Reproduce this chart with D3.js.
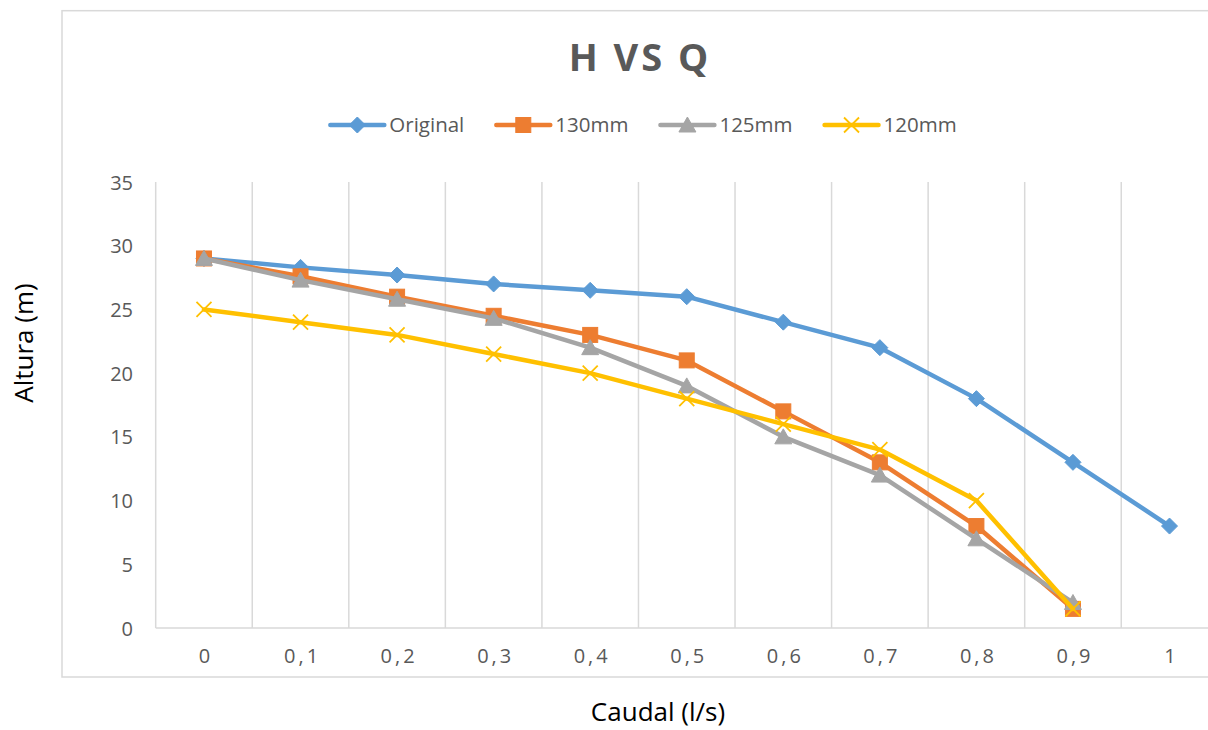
<!DOCTYPE html>
<html>
<head>
<meta charset="utf-8">
<script src="https://cdn.jsdelivr.net/npm/d3@7/dist/d3.min.js"></script>
<style>
  html, body { margin: 0; padding: 0; background: #fff; }
  svg { display: block; font-family: "Open Sans", sans-serif; }
</style>
</head>
<body>
<svg id="chart" width="1208" height="730"></svg>
<script>
// Flow rate categories (l/s) and head values (m) for each impeller diameter
const caudal = ["0", "0,1", "0,2", "0,3", "0,4", "0,5", "0,6", "0,7", "0,8", "0,9", "1"];
const original = [29, 28.3, 27.7, 27, 26.5, 26, 24, 22, 18, 13, 8];
const d130 = [29, 27.6, 26, 24.5, 23, 21, 17, 13, 8, 1.5];
const d125 = [29, 27.3, 25.8, 24.3, 22, 19, 15, 12, 7, 2];
const d120 = [25, 24, 23, 21.5, 20, 18, 16, 14, 10, 1.5];
const seriesNames = ["Original", "130mm", "125mm", "120mm"];
const seriesColors = ["#5B9BD5", "#ED7D31", "#A5A5A5", "#FFC000"];
const seriesMarkers = ["diamond", "square", "triangle", "cross"];
const yTicks = [0, 5, 10, 15, 20, 25, 30, 35];

const series = [original, d130, d125, d120].map((vals, i) => ({
  name: seriesNames[i], color: seriesColors[i], marker: seriesMarkers[i],
  values: vals.map((v, j) => ({ cat: caudal[j], v }))
}));

const svg = d3.select("#chart");
const plot = { left: 155.7, right: 1217.8, top: 182, bottom: 628 };

// Chart area frame
svg.append("rect")
  .attr("x", 62).attr("y", 10.7).attr("width", 1156).attr("height", 666.3)
  .attr("fill", "#fff").attr("stroke", "#d9d9d9").attr("stroke-width", 1.5);

const x = d3.scalePoint().domain(caudal).range([plot.left, plot.right]).padding(0.5);
const y = d3.scaleLinear().domain([0, 35]).range([plot.bottom, plot.top]);
const step = x.step();

// Vertical gridlines at category boundaries
const bounds = d3.range(caudal.length + 1).map(i => plot.left + i * step);
svg.append("g").selectAll("line").data(bounds).join("line")
  .attr("x1", d => d).attr("x2", d => d)
  .attr("y1", plot.top).attr("y2", plot.bottom)
  .attr("stroke", "#d9d9d9").attr("stroke-width", 1.5);

// Horizontal category axis line
svg.append("line")
  .attr("x1", plot.left).attr("x2", plot.right)
  .attr("y1", plot.bottom).attr("y2", plot.bottom)
  .attr("stroke", "#d9d9d9").attr("stroke-width", 1.5);

// Value axis labels
const yAxis = d3.axisLeft(y).tickValues(yTicks).tickSize(0).tickPadding(0).tickFormat(d3.format("d"));
const gy = svg.append("g").attr("transform", "translate(133,0)").call(yAxis);
gy.select(".domain").remove();
gy.selectAll("text")
  .attr("fill", "#595959").attr("font-size", 20)
  .attr("font-family", "Open Sans, sans-serif").attr("dy", "0.35em");

// Category axis labels
const xAxis = d3.axisBottom(x).tickSize(0).tickPadding(0);
const gx = svg.append("g").attr("transform", `translate(0,${plot.bottom})`).call(xAxis);
gx.select(".domain").remove();
gx.selectAll("text")
  .attr("fill", "#595959").attr("font-size", 20)
  .attr("font-family", "Open Sans, sans-serif")
  .attr("dy", 0).attr("y", 35)
  .attr("letter-spacing", "3px")
  .attr("dx", "1.5px");

// Marker shapes
function drawMarker(g, type, color, cx, cy) {
  if (type === "diamond") {
    g.append("path")
      .attr("d", `M${cx},${cy - 8}L${cx + 8},${cy}L${cx},${cy + 8}L${cx - 8},${cy}Z`)
      .attr("fill", color).attr("stroke", color).attr("stroke-width", 1);
  } else if (type === "square") {
    g.append("rect").attr("x", cx - 7.5).attr("y", cy - 7.5)
      .attr("width", 15).attr("height", 15)
      .attr("fill", color).attr("stroke", color).attr("stroke-width", 1);
  } else if (type === "triangle") {
    g.append("path")
      .attr("d", `M${cx},${cy - 8}L${cx + 8.5},${cy + 7}L${cx - 8.5},${cy + 7}Z`)
      .attr("fill", color).attr("stroke", color).attr("stroke-width", 1);
  } else if (type === "cross") {
    g.append("path")
      .attr("d", `M${cx - 7.5},${cy - 7.5}L${cx + 7.5},${cy + 7.5}M${cx + 7.5},${cy - 7.5}L${cx - 7.5},${cy + 7.5}`)
      .attr("fill", "none").attr("stroke", color).attr("stroke-width", 1.8);
  }
}

// Series lines and markers
const line = d3.line().x(d => x(d.cat)).y(d => y(d.v));
series.forEach(s => {
  const g = svg.append("g");
  g.append("path").datum(s.values)
    .attr("d", line).attr("fill", "none")
    .attr("stroke", s.color).attr("stroke-width", 4.5)
    .attr("stroke-linejoin", "round").attr("stroke-linecap", "round");
  s.values.forEach(d => drawMarker(g, s.marker, s.color, x(d.cat), y(d.v)));
});

// Title
svg.append("text")
  .attr("x", 640).attr("y", 71).attr("text-anchor", "middle")
  .attr("font-size", 38).attr("font-weight", "bold")
  .attr("letter-spacing", "3px")
  .attr("fill", "#595959").text("H VS Q");

// Legend
const legend = svg.append("g");
const legendY = 125;
let lx = 0;
series.forEach(s => {
  const it = legend.append("g");
  it.append("line").attr("x1", 0).attr("x2", 54).attr("y1", legendY).attr("y2", legendY)
    .attr("stroke", s.color).attr("stroke-width", 4.5).attr("stroke-linecap", "round");
  drawMarker(it, s.marker, s.color, 27, legendY);
  const t = it.append("text").attr("x", 59).attr("y", legendY).attr("dy", "0.35em")
    .attr("font-size", 20.5).attr("fill", "#595959").text(s.name);
  const w = 59 + t.node().getComputedTextLength();
  it.attr("transform", `translate(${lx},0)`);
  lx += w + 32;
});
const legendWidth = lx - 32;
legend.attr("transform", `translate(${643.5 - legendWidth / 2},0)`);

// Axis titles
svg.append("text")
  .attr("x", 658).attr("y", 721).attr("text-anchor", "middle")
  .attr("font-size", 26).attr("fill", "#000").text("Caudal (l/s)");
svg.append("text")
  .attr("transform", "translate(33,343) rotate(-90)")
  .attr("text-anchor", "middle")
  .attr("font-size", 26).attr("fill", "#000").text("Altura (m)");
</script>
</body>
</html>
